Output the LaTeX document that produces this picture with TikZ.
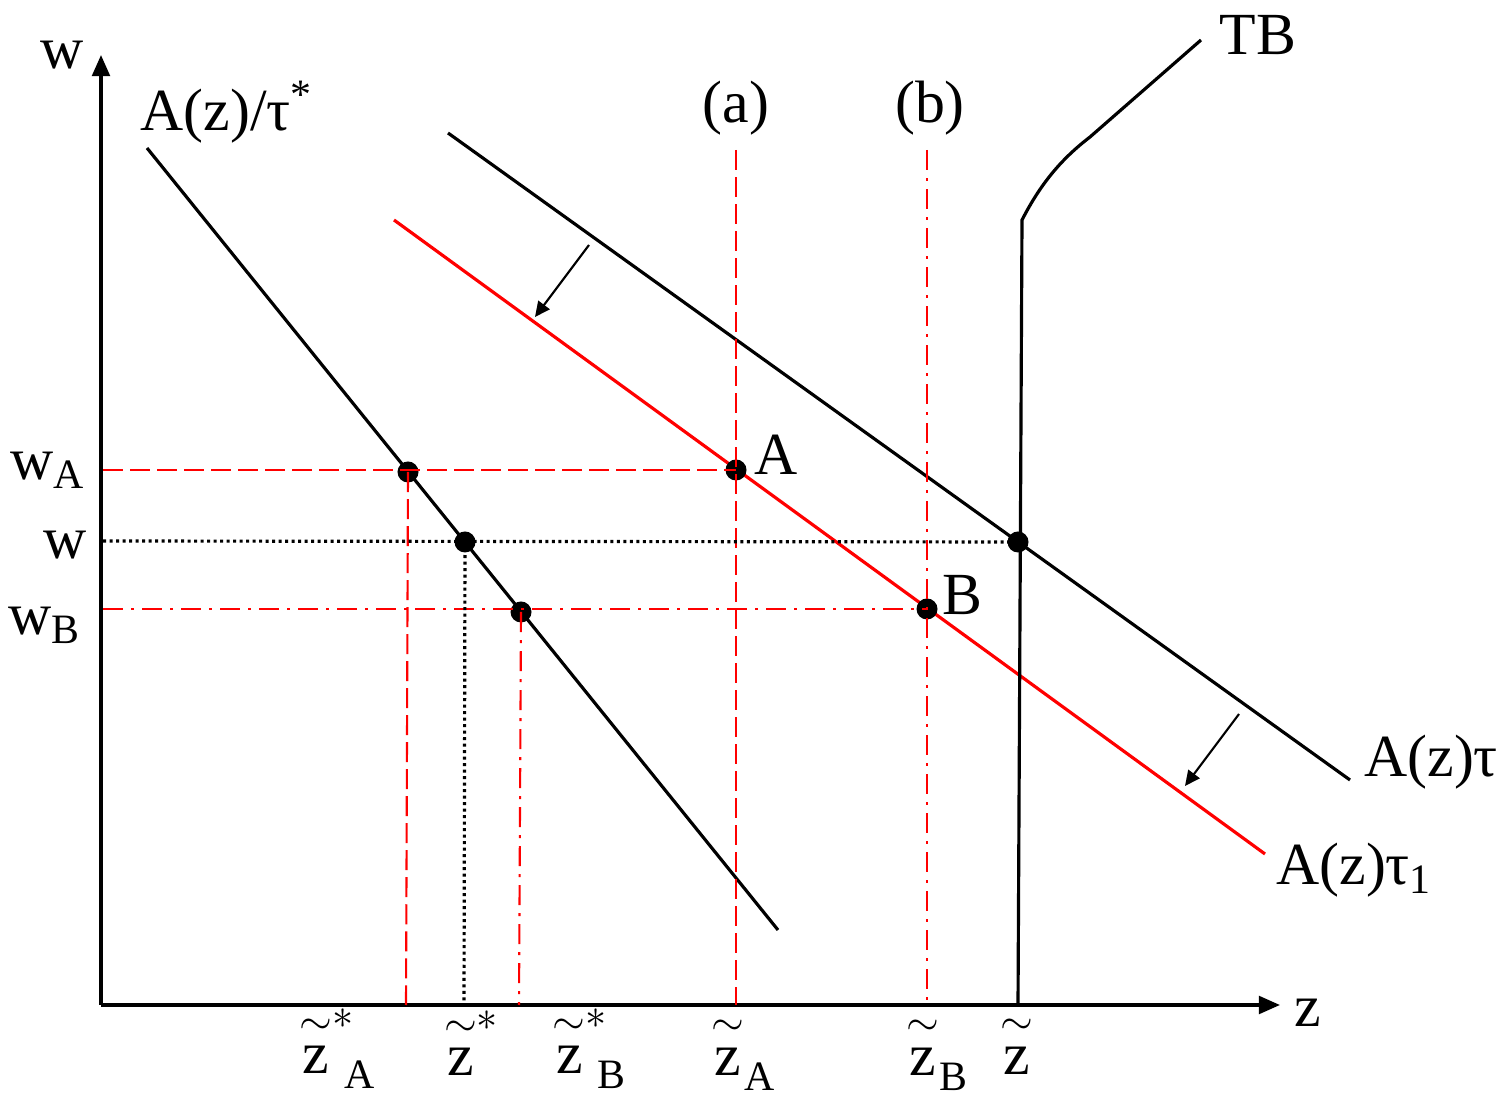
\documentclass[tikz,border=0pt]{standalone}
\usepackage{amsmath}
\usepackage{fontspec}
\setmainfont{Liberation Serif}
\usetikzlibrary{arrows.meta}
\newcommand{\ztil}[2]{$\overset{\sim}{\text{z}}^{#1}_{#2}$}

\begin{document}
\begin{tikzpicture}[x=0.01cm,y=-0.01cm,font=\fontsize{17}{20}\selectfont,
  curve/.style={line width=0.9pt},
  guide/.style={red,line width=0.6pt},
  dot/.style={circle,fill=black,inner sep=0pt,minimum size=0.21cm},
  zlabel/.style={inner sep=0pt},
  shiftarrow/.style={-{Triangle[length=4.3pt,width=4pt]},line width=0.6pt}]
  \useasboundingbox (0,0) rectangle (1512,1095);
  % axes
  \coordinate (O) at (101,1005);
  \draw[line width=1pt,-{Triangle[length=6pt,width=5pt]}] (O) -- (101,55) coordinate (wtop);
  \draw[line width=1pt,-{Triangle[length=6pt,width=5pt]}] (O) -- (1280,1005) coordinate (zend);
  \node (wlab) at (62,55) {w};
  \node (zlab) at (1308,1013) {z};
  % schedules
  \draw[curve] (147,148) coordinate (s0) -- (778,930) coordinate (s1);
  \draw[curve] (448,133) coordinate (t0) -- (1350,780) coordinate (t1);
  \draw[curve,red] (394,220) coordinate (r0) -- (1265,854) coordinate (r1);
  \draw[curve] (1018,1005) -- (1022,220) .. controls (1040,185) and (1060,160) .. (1090,137) -- (1201,40) coordinate (tb);
  \node (star) at (227,112) {A(z)/τ\textsuperscript{*}};
  \node[anchor=west] (tau) at (1352,762) {A(z)τ};
  \node[anchor=west] (tau1) at (1264,870) {A(z)τ$_{\text{1}}$};
  \node (TBlab) at (1258,35) {TB};
  % shifts
  \draw[shiftarrow] (589,245) -- (535,317);
  \draw[shiftarrow] (1239,714) -- (1185,786);
  % points
  \node[dot] (pA) at (736,470) {};
  \node[dot] (pB) at (927,609) {};
  \node[dot] (pT) at (1018,542) {};
  \node[dot] (sA) at (408,472) {};
  \node[dot] (sW) at (465,542) {};
  \node[dot] (sB) at (521,612) {};
  \node (Alab) at (776,455) {A};
  \node (Blab) at (962,595) {B};
  % guides
  \draw[guide,dash pattern=on 0.2cm off 0.07cm] (103,470) -- (pA.center);
  \draw[guide,dash pattern=on 0.2cm off 0.07cm] (sA.center) -- (406,1005);
  \draw[guide,dash pattern=on 0.2cm off 0.07cm] (736,150) coordinate (a0) -- (736,1005);
  \draw[guide,dash pattern=on 0.2cm off 0.08cm on 0.03cm off 0.08cm] (103,609) -- (pB.center);
  \draw[guide,dash pattern=on 0.2cm off 0.08cm on 0.03cm off 0.08cm] (sB.center) -- (519,1005);
  \draw[guide,dash pattern=on 0.2cm off 0.08cm on 0.03cm off 0.08cm] (927,150) coordinate (b0) -- (927,1005);
  \draw[line width=0.9pt,dash pattern=on 0.03cm off 0.035cm] (103,541) -- (pT.center);
  \draw[line width=0.9pt,dash pattern=on 0.03cm off 0.035cm] (sW.center) -- (464,1005);
  \node (alab) at (736,108) {(a)};
  \node (blab) at (930,108) {(b)};
  % axis labels
  \node (wA) at (48,470) {$\text{w}_{\text{A}}$};
  \node (w0) at (65,545) {w};
  \node (wB) at (45,625) {$\text{w}_{\text{B}}$};
  \node[zlabel] (zsA) at (338,1049) {\ztil{*}{\;\text{A}}};
  \node[zlabel] (zs) at (472,1051) {\ztil{*}{}};
  \node[zlabel] (zsB) at (590,1049) {\ztil{*}{\;\text{B}}};
  \node[zlabel] (zA) at (744,1052) {\ztil{}{\text{A}}};
  \node[zlabel] (zB) at (938,1052) {\ztil{}{\text{B}}};
  \node[zlabel] (zz) at (1018,1051) {\ztil{}{}};
\end{tikzpicture}
\end{document}
